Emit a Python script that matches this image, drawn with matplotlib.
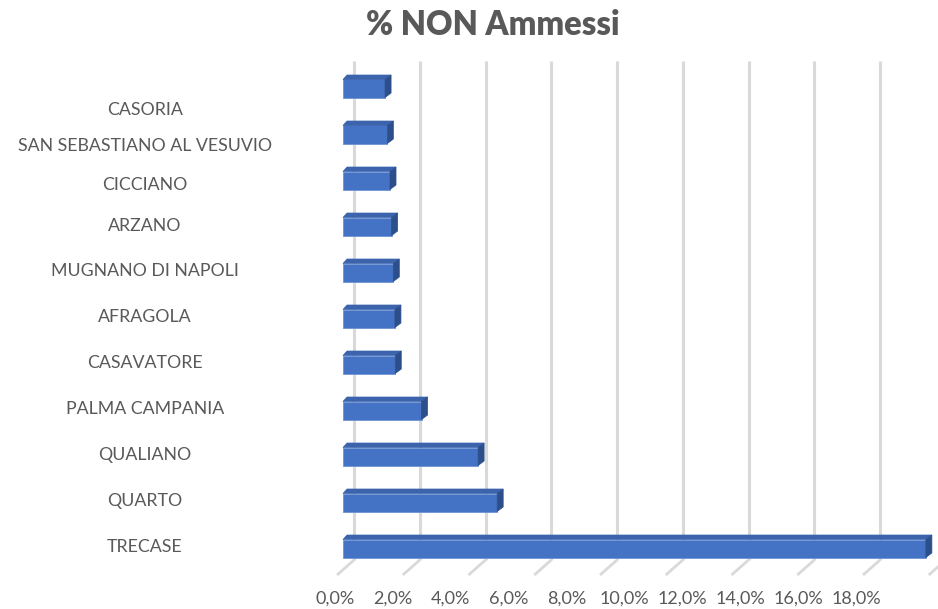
import numpy as np
import matplotlib
matplotlib.use("Agg")
import matplotlib.pyplot as plt
from matplotlib.patches import Polygon

# ---------------- data ----------------
categories = ["TRECASE", "QUARTO", "QUALIANO", "PALMA CAMPANIA", "CASAVATORE",
              "AFRAGOLA", "MUGNANO DI NAPOLI", "ARZANO", "CICCIANO",
              "SAN SEBASTIANO AL VESUVIO", "CASORIA"]
values = [17.73, 4.69, 4.11, 2.39, 1.59, 1.58, 1.53, 1.48, 1.43, 1.35, 1.28]
tick_values = [0, 2, 4, 6, 8, 10, 12, 14, 16, 18]
tick_labels = ["0,0%", "2,0%", "4,0%", "6,0%", "8,0%", "10,0%", "12,0%",
               "14,0%", "16,0%", "18,0%"]
title = "% NON Ammessi"

# ---------------- layout ----------------
W, H, DPI = 938, 609, 100
PX_PER_X = 32.875   # pixels per percentage point
PX_PER_Y = 46.0     # pixels per category
X0_PX = 343.0       # pixel of 0 on the bar front plane
Y0_PX = 548.5       # pixel (from top) of the first category
AX_L, AX_R = 300.0, 960.0
AX_T, AX_B = 50.0, 588.0

fig = plt.figure(figsize=(W / DPI, H / DPI), dpi=DPI)
ax = fig.add_axes([AX_L / W, (H - AX_B) / H, (AX_R - AX_L) / W, (AX_B - AX_T) / H])
ax.set_xlim((AX_L - X0_PX) / PX_PER_X, (AX_R - X0_PX) / PX_PER_X)
ax.set_ylim((Y0_PX - AX_B) / PX_PER_Y, (Y0_PX - AX_T) / PX_PER_Y)
for s in ax.spines.values():
    s.set_visible(False)
ax.set_xticks([])
ax.set_yticks([])

def dx(px):
    return px / PX_PER_X

def dy(px):
    return px / PX_PER_Y

# --- back wall gridlines + floor diagonals ---
grid_col = "#d9d9d9"
top_y = (Y0_PX - 61) / PX_PER_Y
floor_back = (Y0_PX - 560) / PX_PER_Y
floor_front = (Y0_PX - 575) / PX_PER_Y
for v in tick_values:
    xb = v + dx(11)
    ax.plot([xb, xb], [floor_back, top_y], color=grid_col, lw=2.2,
            solid_capstyle="butt", zorder=1, clip_on=False)
    ax.plot([xb, xb - dx(17)], [floor_back, floor_front], color=grid_col,
            lw=2.0, solid_capstyle="butt", zorder=1, clip_on=False)
v_last = tick_values[-1] + (tick_values[1] - tick_values[0])
ax.plot([v_last + dx(11), v_last + dx(11) - dx(17)], [floor_back, floor_front],
        color=grid_col, lw=2.0, zorder=1, clip_on=False)

# --- 3D bars ---
front_col = "#4472C4"
top_col = "#3b64ad"
side_col = "#2c4f8c"
bh = dy(18)
ypos = np.arange(len(categories))
ax.barh(ypos, values, height=bh, left=0, color=front_col,
        edgecolor="#6f93d3", linewidth=0.6, zorder=3)
for y, v in zip(ypos, values):
    yt = y + bh / 2
    yb = y - bh / 2
    top = Polygon([(0, yt), (v, yt), (v + dx(6), yt + dy(4.5)), (dx(4), yt + dy(4.5))],
                  closed=True, facecolor=top_col, edgecolor=top_col, lw=0.5, zorder=3)
    side = Polygon([(v, yb), (v, yt), (v + dx(6), yt + dy(4.5)), (v + dx(6), yb + dy(4.5))],
                   closed=True, facecolor=side_col, edgecolor=side_col, lw=0.5, zorder=3)
    ax.add_patch(top)
    ax.add_patch(side)

# --- x tick labels (squeezed as in the 3D projection) ---
lab_scale = 28.95 / PX_PER_X
lab_off = (335 - X0_PX) / PX_PER_X
secx = ax.secondary_xaxis("bottom",
                          functions=(lambda x: (x - lab_off) / lab_scale,
                                     lambda s: s * lab_scale + lab_off))
secx.set_xticks(tick_values)
secx.set_xticklabels(tick_labels)
secx.tick_params(length=0, pad=2, labelsize=13, labelcolor="#595959")
secx.spines["bottom"].set_visible(False)
for t in secx.get_xticklabels():
    t.set_fontfamily("Lato")

# --- y tick labels (perspective drift near the top) ---
grid_i = np.linspace(-20, 30, 2001)

def off_px(i):
    return -3 + 23 * np.clip((i - 6) / 4, 0, None) ** 2

g_vals = grid_i - off_px(grid_i) / PX_PER_Y

def fwd(y):
    return np.interp(y, g_vals, grid_i)

def inv(s):
    return np.interp(s, grid_i, g_vals)

secy = ax.secondary_yaxis("left", functions=(fwd, inv))
secy.set_yticks(ypos)
secy.set_yticklabels(categories)
secy.spines["left"].set_visible(False)
secy.tick_params(length=0, pad=(AX_L - 145) * 72 / DPI, labelsize=12.8,
                 labelcolor="#595959")
for t in secy.get_yticklabels():
    t.set_fontfamily("Lato")
    t.set_horizontalalignment("center")

fig.text(493 / W, 1 - 25 / H, title, ha="center", va="center",
         fontsize=23.5, fontweight="heavy", color="#595959", family="Lato")

fig.savefig("out.png", dpi=DPI)
